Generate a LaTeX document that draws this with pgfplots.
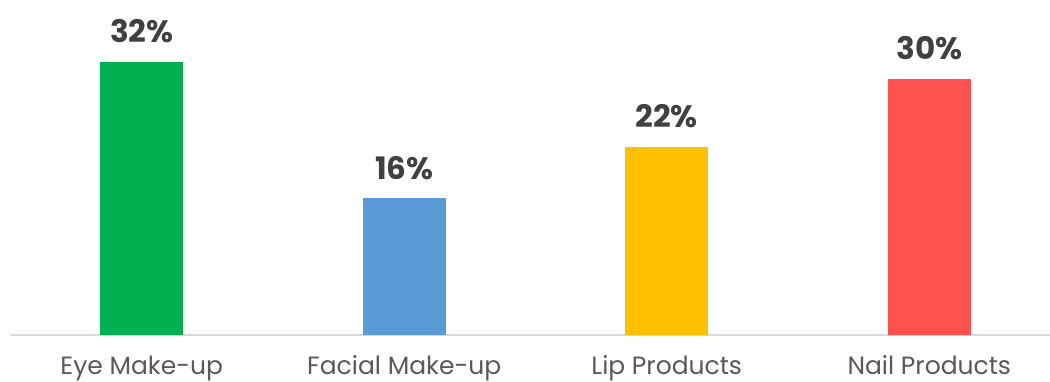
\documentclass[border=0pt]{standalone}
\usepackage{pgfplots}
\pgfplotsset{compat=1.18}
\usepackage{fontspec}
\setmainfont{Poppins}
\definecolor{cgreen}{HTML}{00B050}
\definecolor{cblue}{HTML}{5B9BD5}
\definecolor{cgold}{HTML}{FFC000}
\definecolor{cred}{HTML}{FF5050}
\definecolor{ctext}{HTML}{404040}
\definecolor{ctick}{HTML}{595959}
\definecolor{caxis}{HTML}{D9D9D9}
\begin{document}
\begin{tikzpicture}
\begin{axis}[
  at={(0,0)}, anchor=south west,
  scale only axis,
  width=1039.5pt, height=335pt,
  xmin=-0.5, xmax=3.46,
  ymin=0, ymax=39.2,
  ybar, bar width=83pt,
  axis x line=bottom, axis y line=none,
  x axis line style={draw=caxis, line width=1.5pt, -},
  xtick={0,1,2,3},
  xticklabels={Eye Make-up, Facial Make-up, Lip Products, Nail Products},
  major tick length=0pt,
  xticklabel style={anchor=base, yshift=-39pt, font=\fontsize{25}{28}\selectfont, text=ctick},
  ytick=\empty,
  /pgf/number format/assume math mode=true,
  nodes near coords={\pgfmathprintnumber{\pgfplotspointmeta}\%},
  nodes near coords style={anchor=base, yshift=19pt, font=\fontsize{31}{36}\selectfont\bfseries, text=ctext},
  clip=false,
]
\addplot[fill=cgreen, draw=none, bar shift=0pt] coordinates {(0,32)};
\addplot[fill=cblue, draw=none, bar shift=0pt] coordinates {(1,16)};
\addplot[fill=cgold, draw=none, bar shift=0pt] coordinates {(2,22)};
\addplot[fill=cred, draw=none, bar shift=0pt] coordinates {(3,30)};
\end{axis}
\pgfresetboundingbox
\path (-10.5pt,-46pt) rectangle (1039.5pt,335pt);
\end{tikzpicture}
\end{document}
